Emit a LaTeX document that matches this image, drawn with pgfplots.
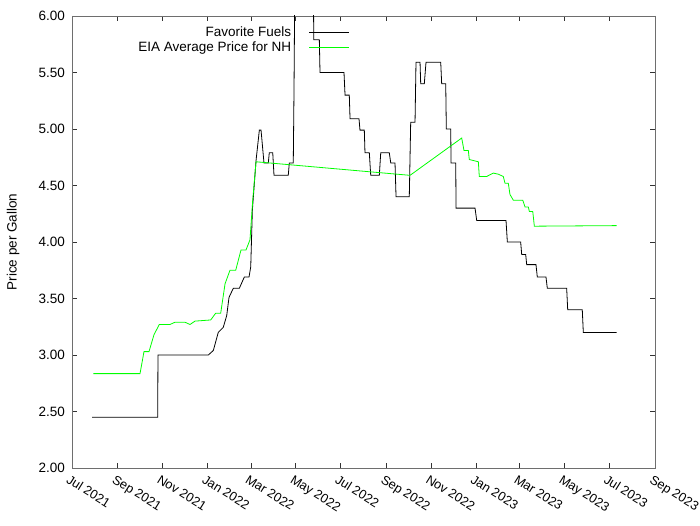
\documentclass[border=0pt]{standalone}
\usepackage{pgfplots}
\pgfplotsset{compat=1.18}
\usepackage{fontspec}
\setmainfont{Liberation Sans}
\definecolor{eiagreen}{RGB}{0,255,0}
\definecolor{axgray}{RGB}{110,110,110}
\newcommand{\gf}{\fontsize{13.5}{15}\selectfont}
\begin{document}
\begin{tikzpicture}[x=1pt,y=1pt]
\path[use as bounding box] (0,0) rectangle (700,525);
\begin{axis}[
  at={(72pt,57pt)}, anchor=south west,
  scale only axis, width=583pt, height=452pt,
  xmin=0, xmax=792, ymin=2, ymax=6,
  xtick={0,62,123,184,243,304,365,427,488,549,608,669,730,792},
  xticklabels={Jul 2021,Sep 2021,Nov 2021,Jan 2022,Mar 2022,May 2022,Jul 2022,Sep 2022,Nov 2022,Jan 2023,Mar 2023,May 2023,Jul 2023,Sep 2023},
  minor x tick num=6,
  ytick={2,2.5,3,3.5,4,4.5,5,5.5,6},
  yticklabels={2.00,2.50,3.00,3.50,4.00,4.50,5.00,5.50,6.00},
  tick align=inside,
  major tick length=5pt, minor tick length=2.5pt,
  axis line style={axgray, line width=0.9pt},
  every tick/.style={black!80, line width=0.6pt},
  xticklabel style={rotate=-32, anchor=north west, inner sep=1pt, yshift=-5pt, xshift=1pt, font=\fontsize{12.8}{14}\selectfont},
  yticklabel style={font=\gf, inner sep=1pt, xshift=-6pt},
  ylabel={Price per Gallon},
  ylabel style={font=\gf, at={(-0.101,0.5)}, anchor=center},
  /pgf/number format/assume math mode=true,
  legend plot pos=right,
  legend cell align=right,
  legend style={at={(0.477,0.981)}, anchor=north east, draw=none, fill=none,
    font=\gf, row sep=0pt, column sep=16pt, inner sep=0pt},
  legend image code/.code={\draw[#1] (0pt,0pt) -- (40pt,0pt);},
]
\addplot[black, line width=0.8pt] coordinates {
(27.2,2.45) (116.4,2.45) (116.8,3.00) (185.2,3.00) (192.0,3.04) (198.7,3.20)
(205.5,3.245) (210.2,3.35) (213.3,3.51) (219.1,3.59) (227.3,3.59) (234.1,3.69)
(240.5,3.69) (242.8,3.78) (245.0,4.28) (250.0,4.72) (254.5,4.99) (256.8,4.99)
(260.8,4.70) (266.7,4.70) (268.0,4.79) (272.7,4.79) (274.4,4.59) (293.8,4.59)
(295.2,4.70) (300.6,4.70) (301.6,5.35) (302.8,6.40) (327.6,6.40) (328.5,5.79)
(336.0,5.79) (336.9,5.50) (369.5,5.50) (370.9,5.30) (376.7,5.30) (377.7,5.09)
(389.9,5.09) (391.2,4.99) (397.1,4.99) (398.0,4.79) (403.9,4.79) (405.8,4.59)
(417.5,4.59) (419.4,4.79) (431.0,4.79) (433.0,4.70) (438.8,4.70) (440.2,4.40)
(458.2,4.40) (460.1,5.06) (466.0,5.06) (467.3,5.59) (472.8,5.59) (473.7,5.40)
(478.6,5.40) (480.9,5.59) (500.9,5.59) (502.2,5.40) (507.7,5.40) (508.5,5.00)
(514.5,5.00) (514.9,4.70) (521.3,4.70) (521.7,4.30) (547.5,4.30) (549.8,4.19)
(589.6,4.19) (591.4,4.00) (609.5,4.00) (610.9,3.89) (616.3,3.89) (617.7,3.80)
(630.3,3.80) (632.1,3.69) (643.9,3.69) (645.7,3.59) (672.0,3.59) (673.4,3.40)
(693.2,3.40) (694.6,3.20) (740.0,3.20)
};
\addlegendentry{Favorite Fuels}
\addplot[eiagreen, line width=0.8pt] coordinates {
(28.9,2.835) (92.4,2.835) (97.8,3.03) (104.6,3.03) (111.4,3.18) (118.6,3.27)
(133.1,3.27) (139.9,3.29) (153.5,3.29) (160.3,3.27) (167.1,3.30) (188.4,3.31)
(195.2,3.37) (202.0,3.37) (207.9,3.63) (214.6,3.75) (222.4,3.75) (229.6,3.93)
(236.4,3.93) (241.8,4.02) (245.5,4.37) (250.0,4.71) (459.2,4.59) (529.4,4.92)
(532.5,4.81) (538.4,4.81) (539.7,4.73) (552.0,4.71) (553.3,4.58) (563.4,4.58)
(572.3,4.61) (579.1,4.60) (585.9,4.58) (588.2,4.52) (592.7,4.52) (595.0,4.42)
(599.5,4.37) (612.3,4.37) (615.4,4.31) (619.9,4.31) (621.3,4.27) (625.9,4.27)
(628.1,4.14) (740.0,4.145)
};
\addlegendentry{EIA Average Price for NH}
\end{axis}
\end{tikzpicture}
\end{document}
